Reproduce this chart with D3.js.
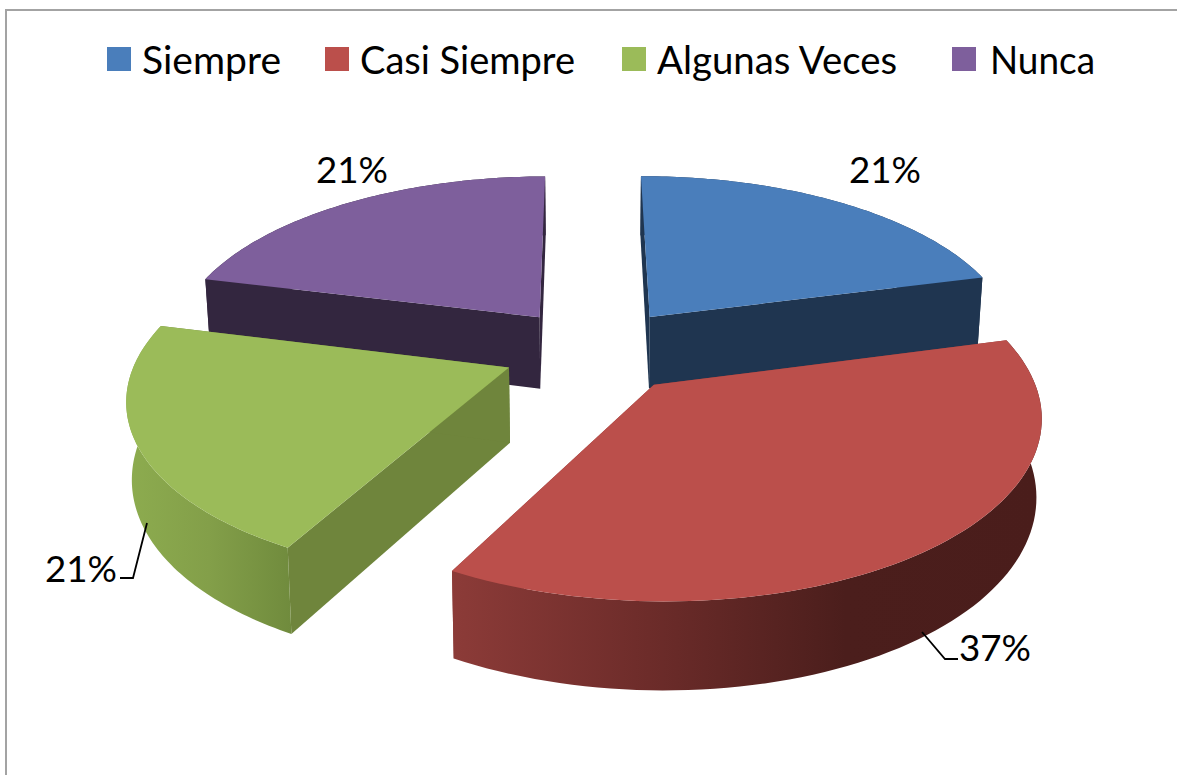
<!DOCTYPE html>
<html>
<head>
<meta charset="utf-8">
<script src="https://d3js.org/d3.v7.min.js"></script>
<style>
    html, body { margin: 0; padding: 0; background: #fff; overflow: hidden; }
    text { font-family: Lato, "Open Sans", sans-serif; fill: #000; }
</style>
</head>
<body>
<div id="pie"></div>
<script>
// data
var categories = ["Siempre", "Casi Siempre", "Algunas Veces", "Nunca"];
var values = [21, 37, 21, 21];

// colours per slice
var topColors = ["#4a7ebb", "#bb4f4b", "#9bbb59", "#7e5f9c"];
var sideColors = ["#1f3550", "#8a3a37", "#6f853c", "#33263f"];
var wallStops = [
    ["#1f3550", "#1f3550"],
    ["#8c3b38", "#6d2c2a", "#4b1e1c", "#4a1d1b"],
    ["#8dac4f", "#839f49", "#708b3d"],
    ["#33263f", "#33263f"]
];

var width = 1177, height = 775;

// legend layout
var swatchX = [107, 325, 622, 952];
var legendTextX = [142, 360, 657, 990];
var legendTextW = [139, 215, 240, 105];

// data label layout, index follows categories
var labelPos = [[885, 183], [995, 661], [81, 582], [352, 183]];
var leaders = [null, [[922, 632], [945, 659], [958, 659]], [[147, 523], [133, 578], [120, 578]], null];

// perspective of the pie plane
var cx = 595, cy = 350, rx = 370, ry = 171.6, persp = 0.153;
var explode = 0.25, depth = 74, depthPersp = 0.17, nadir = 0.988;

function project(p) {
    var w = 1 / (1 - persp * p[1]);
    return [cx + rx * p[0] * w, cy + ry * p[1] * w];
}
function projectBottom(p) {
    var s = project(p);
    return [cx + (s[0] - cx) * nadir, s[1] + depth * (1 + depthPersp * p[1])];
}

var svg = d3.select("#pie").append("svg")
    .attr("width", width)
    .attr("height", height);

var defs = svg.append("defs");
var line = d3.line();

// chart frame
svg.append("path")
    .attr("d", line([[6, height], [6, 10], [width, 10]]))
    .attr("fill", "none")
    .attr("stroke", "#a3a3a3")
    .attr("stroke-width", 2);

// legend
var legend = svg.selectAll(".legend")
    .data(categories)
    .enter()
    .append("g")
    .attr("class", "legend");

legend.append("rect")
    .attr("x", function (d, i) { return swatchX[i]; })
    .attr("y", 47)
    .attr("width", 24)
    .attr("height", 24)
    .attr("fill", function (d, i) { return topColors[i]; });

legend.append("text")
    .attr("x", function (d, i) { return legendTextX[i]; })
    .attr("y", 74)
    .attr("font-size", 38)
    .attr("textLength", function (d, i) { return legendTextW[i]; })
    .attr("lengthAdjust", "spacingAndGlyphs")
    .text(function (d) { return d; });

// pie layout, first slice starts about at 12 o'clock
var startAngle = -0.3 * Math.PI / 180;
var pie = d3.pie()
    .sort(null)
    .startAngle(startAngle)
    .endAngle(startAngle + 2 * Math.PI);

var slices = pie(values).map(function (d, i) {
    var mid = (d.startAngle + d.endAngle) / 2;
    var apex = [explode * Math.sin(mid), -explode * Math.cos(mid)];
    var rim = d3.range(0, 81).map(function (k) {
        var a = d.startAngle + (d.endAngle - d.startAngle) * k / 80;
        return [apex[0] + Math.sin(a), apex[1] - Math.cos(a)];
    });
    return { index: i, apex: apex, rim: rim };
});

function quad(a, b) {
    return [project(a), project(b), projectBottom(b), projectBottom(a)];
}

// paint back to front: Nunca, Siempre, Algunas Veces, Casi Siempre
[3, 0, 2, 1].forEach(function (i) {
    var s = slices[i];
    var g = svg.append("g").attr("class", "slice");

    // cut faces
    [s.rim[0], s.rim[s.rim.length - 1]].forEach(function (p) {
        g.append("path")
            .attr("d", line(quad(s.apex, p)) + "Z")
            .attr("fill", sideColors[i]);
    });

    // outer wall with a left to right gradient
    var top = s.rim.map(project);
    var bottom = s.rim.map(projectBottom).reverse();
    var xRange = d3.extent(top.concat(bottom), function (d) { return d[0]; });
    var grad = defs.append("linearGradient")
        .attr("id", "wall" + i)
        .attr("gradientUnits", "userSpaceOnUse")
        .attr("x1", xRange[0]).attr("x2", xRange[1])
        .attr("y1", 0).attr("y2", 0);
    grad.selectAll("stop")
        .data(wallStops[i])
        .enter()
        .append("stop")
        .attr("offset", function (d, k) { return k / (wallStops[i].length - 1); })
        .attr("stop-color", function (d) { return d; });
    g.append("path")
        .attr("d", line(top.concat(bottom)) + "Z")
        .attr("fill", "url(#wall" + i + ")");

    // top face
    g.append("path")
        .attr("d", line([project(s.apex)].concat(top)) + "Z")
        .attr("fill", topColors[i]);
});

// leader lines
svg.selectAll(".leader")
    .data(leaders.filter(function (d) { return d; }))
    .enter()
    .append("path")
    .attr("class", "leader")
    .attr("d", line)
    .attr("fill", "none")
    .attr("stroke", "#000")
    .attr("stroke-width", 1.8);

// data labels
svg.selectAll(".label")
    .data(values)
    .enter()
    .append("text")
    .attr("class", "label")
    .attr("x", function (d, i) { return labelPos[i][0]; })
    .attr("y", function (d, i) { return labelPos[i][1]; })
    .attr("text-anchor", "middle")
    .attr("font-size", 37)
    .attr("textLength", 72)
    .attr("lengthAdjust", "spacingAndGlyphs")
    .text(function (d) { return d + "%"; });
</script>
</body>
</html>
